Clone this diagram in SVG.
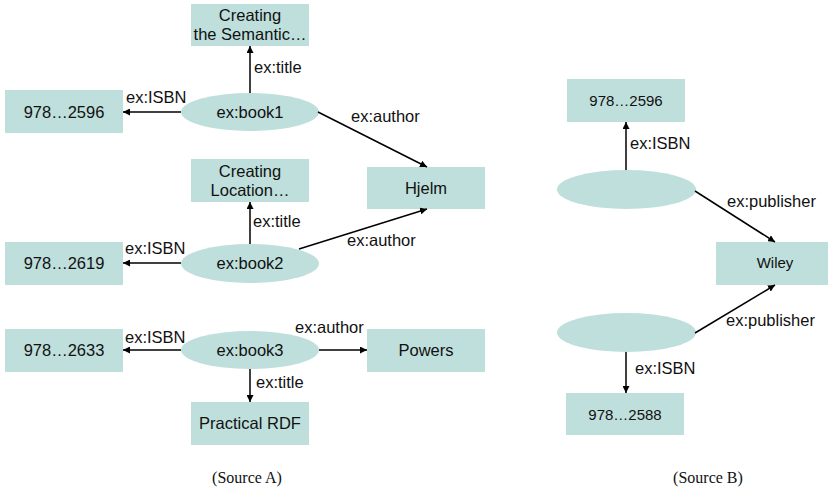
<svg xmlns="http://www.w3.org/2000/svg" width="828" height="492" viewBox="0 0 828 492">
  <defs>
    <marker id="arrow" viewBox="0 0 10 10" refX="10" refY="5" markerWidth="7" markerHeight="7" markerUnits="userSpaceOnUse" orient="auto">
      <path d="M0,0 L10,5 L0,10 z" fill="#000"/>
    </marker>
    <style>
      .box { fill: #bfdfdc; }
      .node { fill: #bfdfdc; }
      .t { font-family: "Liberation Sans", Arial, sans-serif; font-size: 16.5px; fill: #111; text-anchor: middle; }
      .ts { font-family: "Liberation Sans", Arial, sans-serif; font-size: 15px; fill: #111; text-anchor: middle; }
      .lbl { font-family: "Liberation Sans", Arial, sans-serif; font-size: 16.5px; fill: #111; }
      .cap { font-family: "Liberation Serif", "Times New Roman", serif; font-size: 16px; fill: #111; text-anchor: middle; }
      .edge { stroke: #000; stroke-width: 1.5; fill: none; marker-end: url(#arrow); }
    </style>
  </defs>

  <!-- Source A -->
  <g id="title1">
    <rect class="box" x="191" y="4" width="118" height="42"/>
    <text class="t" x="250" y="21">Creating</text>
    <text class="t" x="250" y="40">the Semantic…</text>
  </g>
  <g id="isbn1">
    <rect class="box" x="5" y="90" width="118" height="43"/>
    <text class="t" x="64" y="118">978…2596</text>
  </g>
  <g id="book1">
    <ellipse class="node" cx="250" cy="112" rx="69" ry="19"/>
    <text class="t" x="250" y="118">ex:book1</text>
  </g>
  <g id="title2">
    <rect class="box" x="191" y="159" width="118" height="43"/>
    <text class="t" x="250" y="177">Creating</text>
    <text class="t" x="250" y="196">Location…</text>
  </g>
  <g id="hjelm">
    <rect class="box" x="367" y="167" width="118" height="42"/>
    <text class="t" x="426" y="194">Hjelm</text>
  </g>
  <g id="isbn2">
    <rect class="box" x="5" y="242" width="118" height="43"/>
    <text class="t" x="64" y="269">978…2619</text>
  </g>
  <g id="book2">
    <ellipse class="node" cx="250" cy="263.5" rx="69" ry="19.5"/>
    <text class="t" x="250" y="269">ex:book2</text>
  </g>
  <g id="isbn3">
    <rect class="box" x="5" y="329" width="118" height="43"/>
    <text class="t" x="64" y="356">978…2633</text>
  </g>
  <g id="book3">
    <ellipse class="node" cx="250" cy="350" rx="69" ry="19"/>
    <text class="t" x="250" y="356">ex:book3</text>
  </g>
  <g id="powers">
    <rect class="box" x="367" y="329" width="118" height="43"/>
    <text class="t" x="426" y="356">Powers</text>
  </g>
  <g id="title3">
    <rect class="box" x="191" y="402" width="118" height="43"/>
    <text class="t" x="250" y="429">Practical RDF</text>
  </g>

  <!-- Source B -->
  <g id="isbnB1">
    <rect class="box" x="567" y="79" width="118" height="43"/>
    <text class="ts" x="626" y="106">978…2596</text>
  </g>
  <g id="blank1">
    <ellipse class="node" cx="626.5" cy="189.5" rx="69.5" ry="19.5"/>
  </g>
  <g id="wiley">
    <rect class="box" x="716" y="242" width="118" height="43"/>
    <text class="ts" x="775" y="268">Wiley</text>
  </g>
  <g id="blank2">
    <ellipse class="node" cx="626.5" cy="332.5" rx="69.5" ry="19.5"/>
  </g>
  <g id="isbnB2">
    <rect class="box" x="566" y="393" width="118" height="42"/>
    <text class="ts" x="625" y="420">978…2588</text>
  </g>

  <!-- connectors -->
  <g id="edges">
    <line class="edge" x1="250" y1="93" x2="250" y2="46"/>
    <line class="edge" x1="181" y1="112" x2="123" y2="112"/>
    <line class="edge" x1="318" y1="112" x2="427" y2="167"/>
    <line class="edge" x1="250" y1="244" x2="250" y2="202"/>
    <line class="edge" x1="181" y1="263" x2="123" y2="263"/>
    <line class="edge" x1="299" y1="249" x2="427" y2="209"/>
    <line class="edge" x1="181" y1="350" x2="123" y2="350"/>
    <line class="edge" x1="319" y1="350" x2="367" y2="350"/>
    <line class="edge" x1="250" y1="369" x2="250" y2="402"/>
    <line class="edge" x1="626" y1="170" x2="626" y2="122"/>
    <line class="edge" x1="695" y1="191" x2="775" y2="242"/>
    <line class="edge" x1="695" y1="333" x2="775" y2="285"/>
    <line class="edge" x1="626" y1="352" x2="626" y2="393"/>

    <text class="lbl" x="254" y="73">ex:title</text>
    <text class="lbl" x="126" y="103">ex:ISBN</text>
    <text class="lbl" x="351" y="122">ex:author</text>
    <text class="lbl" x="253" y="227">ex:title</text>
    <text class="lbl" x="125" y="254">ex:ISBN</text>
    <text class="lbl" x="347" y="246">ex:author</text>
    <text class="lbl" x="125" y="343">ex:ISBN</text>
    <text class="lbl" x="295" y="333">ex:author</text>
    <text class="lbl" x="256" y="388">ex:title</text>
    <text class="lbl" x="630" y="149">ex:ISBN</text>
    <text class="lbl" x="727" y="207">ex:publisher</text>
    <text class="lbl" x="726" y="326">ex:publisher</text>
    <text class="lbl" x="635" y="374">ex:ISBN</text>
  </g>

  <text class="cap" x="247" y="483">(Source A)</text>
  <text class="cap" x="708" y="483">(Source B)</text>
</svg>
